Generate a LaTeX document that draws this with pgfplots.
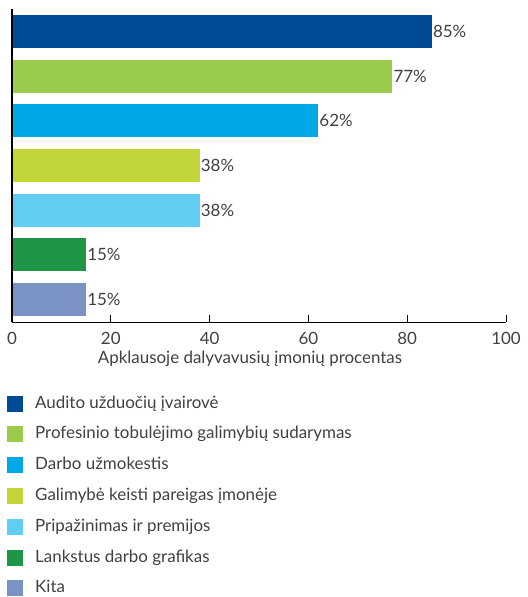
\documentclass[border=0pt]{standalone}
\usepackage{pgfplots}
\pgfplotsset{compat=1.18}
\usepackage{fontspec}
\setmainfont{Lato}
\definecolor{txtgray}{HTML}{404040}
\definecolor{cA}{HTML}{004B96}
\definecolor{cB}{HTML}{9ACB4C}
\definecolor{cC}{HTML}{00A9E6}
\definecolor{cD}{HTML}{C2D63A}
\definecolor{cE}{HTML}{60CDF2}
\definecolor{cF}{HTML}{1E9645}
\definecolor{cG}{HTML}{7B93C4}
\newcommand{\lbl}{\fontsize{17}{20}\selectfont}

\begin{document}
\begin{tikzpicture}
\useasboundingbox (0,0) rectangle (528bp,597bp);
\begin{axis}[
    at={(12bp,275bp)}, anchor=south west,
    scale only axis, width=494bp, height=313bp,
    xmin=0, xmax=100, ymin=-0.5, ymax=6.5,
    xbar, bar width=33bp, bar shift=0pt,
    axis x line*=bottom, axis y line*=left,
    axis line style={-, black},
    x axis line style={line width=1bp},
    y axis line style={line width=1.6bp},
    axis on top,
    xtick={0,20,...,100}, ytick=\empty,
    xtick align=inside, major tick length=7bp,
    tick style={black, line width=0.8bp},
    /pgf/number format/assume math mode=true,
    x tick label style={font=\lbl, text=txtgray, anchor=north, inner sep=0pt, yshift=-10bp},
    xlabel={Apklausoje dalyvavusių įmonių procentas},
    xlabel style={font=\lbl, text=txtgray, inner sep=0pt, anchor=base,
        at={(axis description cs:0.4818,-0.131)}},
    point meta=x,
    nodes near coords={\pgfmathprintnumber{\pgfplotspointmeta}\%},
    nodes near coords align={horizontal},
    nodes near coords style={anchor=west, font=\lbl, text=txtgray, inner sep=1bp},
    legend image code/.code={\fill[#1] (0bp,-8bp) rectangle (16bp,8bp);},
    legend cell align=left,
    legend style={at={(axis description cs:-0.0101,-0.233)}, anchor=north west,
        draw=none, fill=none, font=\lbl, text=txtgray, row sep=13.8bp,
        inner sep=0pt,
        nodes={inner sep=0pt, text height=13bp, text depth=4bp},
        /tikz/every odd column/.append style={column sep=12bp}},
]
\addplot[fill=cA, draw=none] coordinates {(85,6)};
\addlegendentry{Audito užduočių įvairovė}
\addplot[fill=cB, draw=none] coordinates {(77,5)};
\addlegendentry{Profesinio tobulėjimo galimybių sudarymas}
\addplot[fill=cC, draw=none] coordinates {(62,4)};
\addlegendentry{Darbo užmokestis}
\addplot[fill=cD, draw=none] coordinates {(38,3)};
\addlegendentry{Galimybė keisti pareigas įmonėje}
\addplot[fill=cE, draw=none] coordinates {(38,2)};
\addlegendentry{Pripažinimas ir premijos}
\addplot[fill=cF, draw=none] coordinates {(15,1)};
\addlegendentry{Lankstus darbo grafikas}
\addplot[fill=cG, draw=none] coordinates {(15,0)};
\addlegendentry{Kita}
\end{axis}
\end{tikzpicture}
\end{document}
